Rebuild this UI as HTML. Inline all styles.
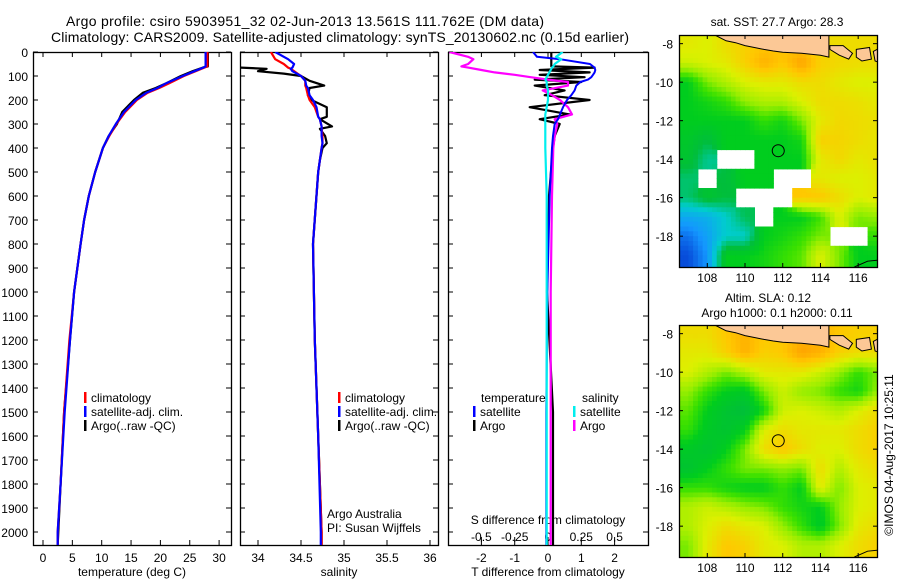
<!DOCTYPE html>
<html><head><meta charset="utf-8"><style>
html,body{margin:0;padding:0;background:#fff}
svg{display:block}
text{font-family:"Liberation Sans",sans-serif;fill:#000}
</style></head><body>
<svg id="fig" width="900" height="580" viewBox="0 0 900 580" xmlns="http://www.w3.org/2000/svg">
<text x="66" y="26" font-size="14" textLength="478">Argo profile: csiro 5903951_32 02-Jun-2013 13.561S 111.762E (DM data)</text>
<text x="51" y="42" font-size="14" textLength="578">Climatology: CARS2009. Satellite-adjusted climatology: synTS_20130602.nc (0.15d earlier)</text>
<g id="g"></g>
</svg>
<script>
// ---- profile data ----
const depthT = [0,60,65,80,100,130,150,170,200,250,300,350,400,500,600,700,800,1000,1200,1500,1800,2000,2054];
const argoT  = [28.1,28.1,27.2,25.5,23.5,21,19.2,17,15.5,13.5,12.6,11.2,10.2,8.9,7.8,7,6.4,5.3,4.6,3.6,3.0,2.6,2.5];
const climT  = [28,28,27.5,26,24,21.5,19.8,17.8,16,14,12.5,11.3,10.2,8.9,7.8,7,6.4,5.3,4.5,3.6,3.0,2.5,2.5];
const satT   = [27.7,27.7,27.3,25.8,23.8,21,19.5,17.6,15.8,13.8,12.4,11.2,10.2,8.9,7.8,7,6.4,5.3,4.6,3.7,3.0,2.5,2.5];
const depthS = [0,30,50,65,70,80,90,100,120,140,150,180,200,230,270,280,310,320,350,380,400,450,500,800,1200,1600,2000,2054];
const argoS  = [null,null,null,33.8,34.1,34.0,34.3,34.5,34.6,34.77,34.6,34.58,34.62,34.8,34.8,34.72,34.86,34.72,34.78,34.8,34.75,34.72,34.7,34.64,34.66,34.7,34.74,34.74];
const climS  = [34.15,34.2,34.3,34.35,34.38,34.42,34.46,34.5,34.55,34.55,34.56,34.58,34.6,34.66,34.7,34.72,34.74,34.74,34.75,34.75,34.74,34.72,34.7,34.64,34.66,34.7,34.74,34.74];
const satS   = [34.2,34.35,34.42,34.4,34.38,34.4,34.45,34.5,34.55,34.56,34.58,34.6,34.64,34.68,34.7,34.72,34.74,34.74,34.74,34.75,34.74,34.72,34.7,34.64,34.66,34.7,34.73,34.73];
const depthD = [0,20,30,50,60,65,75,85,95,105,115,125,140,160,180,200,230,260,280,300,350,400,600,1000,1500,2000,2054];
const argoTd = [0.1,0.1,0.1,0.1,0.1,1.4,-0.25,1.25,-0.25,1.1,-0.4,1.0,-0.4,0.5,-0.1,1.25,-0.55,0.65,-0.25,0.35,0.2,0.15,0.03,-0.03,0.15,0.15,0.15];
const satTd  = [-0.45,-0.33,0.36,1.26,1.35,1.4,1.42,1.4,1.35,1.3,1.2,0.97,0.85,0.8,0.7,0.57,0.45,0.36,0.3,0.2,0.15,0.12,0.05,-0.02,-0.05,-0.05,-0.05];
const argoSd = [-0.74,-0.6,-0.56,-0.6,-0.65,-0.6,-0.5,-0.4,-0.25,-0.13,0,0.15,0.15,-0.04,0.03,0.09,0.15,0.18,0.05,0.07,0.05,0.04,0.03,0.02,0.02,0.02,0.02];
const satSd  = [0.11,0.06,0.1,0.05,0.04,0.03,0.02,0.01,0,-0.01,-0.02,-0.01,-0.01,0,0,0,-0.01,-0.02,-0.02,-0.02,-0.02,-0.02,-0.01,-0.01,-0.01,-0.01,-0.01];
const depthTicks = [0,100,200,300,400,500,600,700,800,900,1000,1100,1200,1300,1400,1500,1600,1700,1800,1900,2000];
const tempTicks = [0,5,10,15,20,25,30];
const salTickLabels = ["34","34.5","35","35.5","36"];
const salTickVals = [34,34.5,35,35.5,36];
const tdTicks = [-2,-1,0,1,2];
const sdTicks = [-0.5,-0.25,0,0.25,0.5];
// ---- map grids (rows lat -8..-19, cols lon 107..117) ----
const mapLats = [-8,-9,-10,-11,-12,-13,-14,-15,-16,-17,-18,-19];
const mapLons = [107,108,109,110,111,112,113,114,115,116,117];
const sstGrid = [
[0.72,0.7,0.75,0.78,0.8,0.82,0.8,0.75,0.75,0.75,0.75],
[0.68,0.7,0.72,0.78,0.85,0.8,0.88,0.78,0.76,0.75,0.75],
[0.5,0.6,0.65,0.7,0.72,0.72,0.75,0.75,0.72,0.7,0.7],
[0.5,0.52,0.55,0.62,0.65,0.65,0.7,0.75,0.75,0.74,0.72],
[0.5,0.5,0.5,0.5,0.55,0.52,0.6,0.72,0.76,0.75,0.74],
[0.47,0.42,0.5,0.5,0.5,0.5,0.52,0.78,0.77,0.75,0.73],
[0.45,0.35,null,null,0.5,0.5,0.5,0.72,0.76,0.72,0.74],
[0.38,null,0.42,0.5,0.5,null,null,0.72,0.7,0.7,0.72],
[0.38,0.45,0.42,null,null,null,0.8,0.8,0.75,0.7,0.72],
[0.2,0.22,0.3,0.4,null,0.5,0.5,0.56,0.7,0.6,0.62],
[0.1,0.18,0.3,0.3,0.5,0.52,0.55,0.6,null,null,0.55],
[0.05,0.15,0.5,0.5,0.52,0.55,0.58,0.7,0.6,0.5,0.5]];
const slaGrid = [
[0.75,0.75,0.8,0.85,0.8,0.8,0.85,0.85,0.8,0.78,0.78],
[0.72,0.72,0.78,0.85,0.78,0.8,0.88,0.85,0.78,0.75,0.75],
[0.7,0.65,0.6,0.65,0.72,0.72,0.72,0.68,0.62,0.55,0.6],
[0.62,0.55,0.5,0.48,0.6,0.68,0.62,0.6,0.55,0.52,0.62],
[0.58,0.5,0.45,0.42,0.52,0.68,0.7,0.68,0.65,0.7,0.75],
[0.55,0.48,0.45,0.5,0.7,0.75,0.72,0.72,0.72,0.75,0.78],
[0.48,0.45,0.5,0.6,0.75,0.8,0.75,0.7,0.7,0.75,0.78],
[0.45,0.5,0.55,0.6,0.6,0.62,0.6,0.75,0.65,0.72,0.75],
[0.55,0.55,0.52,0.5,0.5,0.55,0.5,0.72,0.6,0.7,0.72],
[0.65,0.68,0.65,0.62,0.6,0.55,0.52,0.5,0.62,0.7,0.72],
[0.65,0.7,0.75,0.72,0.7,0.62,0.55,0.48,0.6,0.72,0.75],
[0.6,0.72,0.8,0.78,0.72,0.7,0.65,0.65,0.7,0.75,0.78]];
const lonTicks = [108,110,112,114,116];
const latTicks = [-8,-10,-12,-14,-16,-18];
const coastLon = [108.4,109,109.5,110,110.5,111,111.5,112,113,114,114.45,114.45];
const coastLat = [-7.55,-7.85,-7.95,-8.1,-8.2,-8.3,-8.38,-8.45,-8.5,-8.6,-8.7,-7.55];
const baliLon = [114.5,115.2,115.7,115.5,115.0,114.5];
const baliLat = [-8.1,-8.1,-8.5,-8.8,-8.6,-8.3];
const lombokLon = [115.9,116.6,116.7,116.2,115.9];
const lombokLat = [-8.3,-8.2,-8.8,-8.9,-8.7];
const sumbawaLon = [116.8,117.2,117.2,116.9];
const sumbawaLat = [-8.4,-8.2,-9.0,-8.9];
const floatLon = 111.762, floatLat = -13.561;

const NS='http://www.w3.org/2000/svg';
const G=document.getElementById('g');
function el(tag,attrs,parent){const e=document.createElementNS(NS,tag);for(const k in attrs)e.setAttribute(k,attrs[k]);(parent||G).appendChild(e);return e;}
function txt(x,y,s,size,anchor,parent){const t=el('text',{x:x,y:y,'font-size':size||12,'text-anchor':anchor||'start'},parent);t.textContent=s;return t;}

const PT=52, PB=545;
const yD=d=>PT+d*0.24;
const xT=v=>43+v*5.87;
const xS=v=>258+(v-34)*86;
const xTd=v=>548+v*33.3;
const xSd=v=>548+v*133.2;

function panel(x0,x1,name){
  const r=el('rect',{x:x0+0.5,y:PT+0.5,width:x1-x0,height:PB-PT,fill:'none',stroke:'#000','stroke-width':1.3});
  
  
  depthTicks.forEach(d=>{el('line',{x1:x0,x2:x0+5,y1:yD(d),y2:yD(d),stroke:'#000'});el('line',{x1:x1-5,x2:x1,y1:yD(d),y2:yD(d),stroke:'#000'});});
}
function line(ds,vs,fx,color,name,w){
  let p='';let pen=false;
  ds.forEach((d,i)=>{const v=vs[i];if(v===null||v===undefined){pen=false;return;}p+=(pen?'L':'M')+fx(v).toFixed(1)+','+yD(Math.min(d,2054)).toFixed(1);pen=true;});
  const e=el('path',{d:p,fill:'none',stroke:color,'stroke-width':w||2.2,'stroke-linejoin':'round'});
  
  
  return e;
}
function clip(id,x0,x1){const c=el('clipPath',{id:id});el('rect',{x:x0,y:PT,width:x1-x0,height:PB-PT},c);}

// Panel 1 temperature
panel(33,231,'temperature-panel');
depthTicks.forEach(d=>{const t=txt(28,yD(d)+5,String(d),12,'end');});
tempTicks.forEach(v=>{el('line',{x1:xT(v),x2:xT(v),y1:PB-5,y2:PB,stroke:'#000'});el('line',{x1:xT(v),x2:xT(v),y1:PT,y2:PT+5,stroke:'#000'});txt(xT(v),562,String(v),12,'middle');});
txt(132,576,'temperature (deg C)',12,'middle');
clip('c1',33,231);
const g1=el('g',{'clip-path':'url(#c1)'});
[[argoT,'#000','argo-temperature-line'],[climT,'#f00','clim-temperature-line'],[satT,'#00f','sat-temperature-line']].forEach(a=>{g1.appendChild(line(depthT,a[0],xT,a[1],a[2]));});

// Panel 2 salinity
panel(240,438,'salinity-panel');
salTickVals.forEach((v,i)=>{el('line',{x1:xS(v),x2:xS(v),y1:PB-5,y2:PB,stroke:'#000'});el('line',{x1:xS(v),x2:xS(v),y1:PT,y2:PT+5,stroke:'#000'});txt(xS(v),562,salTickLabels[i],12,'middle');});
txt(339,576,'salinity',12,'middle');
clip('c2',240,438);
const g2=el('g',{'clip-path':'url(#c2)'});
[[argoS,'#000','argo-salinity-line'],[climS,'#f00','clim-salinity-line'],[satS,'#00f','sat-salinity-line']].forEach(a=>{g2.appendChild(line(depthS,a[0],xS,a[1],a[2]));});
txt(327,518,'Argo Australia',12);
txt(327,532,'PI: Susan Wijffels',12);

// legends
function legend(x,y,color,label,name){
  const g=el('g',{});
  el('rect',{x:x,y:y-10,width:2.5,height:11,fill:color},g);txt(x+7,y,label,12,'start',g);
}
[[84,'#f00','climatology'],[84,'#00f','satellite-adj. clim.'],[84,'#000','Argo(..raw -QC)']].forEach((l,i)=>legend(l[0],402+i*14,l[1],l[2],'temp-legend-entry'));
[[338,'#f00','climatology'],[338,'#00f','satellite-adj. clim.'],[338,'#000','Argo(..raw -QC)']].forEach((l,i)=>legend(l[0],402+i*14,l[1],l[2],'sal-legend-entry'));

// Panel 3 differences
panel(448,648,'difference-panel');
tdTicks.forEach(v=>{el('line',{x1:xTd(v),x2:xTd(v),y1:PB-5,y2:PB,stroke:'#000'});el('line',{x1:xTd(v),x2:xTd(v),y1:PT,y2:PT+5,stroke:'#000'});txt(xTd(v),562,String(v),12,'middle');});
sdTicks.forEach(v=>{el('line',{x1:xSd(v),x2:xSd(v),y1:PB-8,y2:PB-3,stroke:'#000'});txt(xSd(v),541,String(v),12,'middle');});
txt(548,524,'S difference from climatology',12,'middle');
txt(548,576,'T difference from climatology',12,'middle');
clip('c3',448,648);
const g3=el('g',{'clip-path':'url(#c3)'});
g3.appendChild(line(depthD,argoTd,xTd,'#000','argo-t-diff-line',2.2));
g3.appendChild(line(depthD,argoSd,xSd,'#f0f','argo-s-diff-line',2.2));
g3.appendChild(line(depthD,satTd,xTd,'#00f','sat-t-diff-line',2));
g3.appendChild(line(depthD,satSd,xSd,'#0ee','sat-s-diff-line',2.2));
txt(481,402,'temperature',12);
txt(582,402,'salinity',12);
legend(473,416,'#00f','satellite','t-sat-legend');
legend(473,430,'#000','Argo','t-argo-legend');
legend(573,416,'#0ee','satellite','s-sat-legend');
legend(573,430,'#f0f','Argo','s-argo-legend');

// ---- maps ----
const stops=[[0,[0,40,200]],[0.15,[20,150,255]],[0.3,[0,205,205]],[0.42,[0,190,60]],[0.5,[0,205,30]],[0.56,[60,225,0]],[0.62,[150,238,0]],[0.7,[220,240,0]],[0.8,[255,200,0]],[1,[255,110,0]]];
function cmap(v){for(let i=1;i<stops.length;i++){if(v<=stops[i][0]){const a=stops[i-1],b=stops[i],t=(v-a[0])/(b[0]-a[0]);return 'rgb('+a[1].map((c,k)=>Math.round(c+(b[1][k]-c)*t)).join(',')+')';}}return 'rgb(255,110,0)';}
function drawMap(y0,grid,name,title,circleName){
  const X0=679,X1=877,Y1=y0+232;
  const lx=lon=>X0+(lon-106.5)*18.86;
  const ly=lat=>y0+(-7.55-lat)*19.25;
  const g=el('g',{});
  const cid='mc'+y0;const c=el('clipPath',{id:cid});el('rect',{x:X0,y:y0,width:X1-X0,height:Y1-y0},c);
  const gi=el('g',{'clip-path':'url(#'+cid+')'},g);
  const step=0.25;
  for(let lat=-7.5;lat>-19.75;lat-=step){for(let lon=106.5;lon<117;lon+=step){
    const fr=Math.min(Math.max(-8-(lat-step/2),0),11), fc=Math.min(Math.max(lon+step/2-107,0),10);
    const r0=Math.floor(fr),c0=Math.floor(fc),r1=Math.min(r0+1,11),c1=Math.min(c0+1,10),tr=fr-r0,tc=fc-c0;
    const near=grid[Math.round(fr)][Math.round(fc)];
    let v;
    if(near===null){v=null;}else{
      const q=[grid[r0][c0],grid[r0][c1],grid[r1][c0],grid[r1][c1]].map(x=>x===null?near:x);
      v=q[0]*(1-tr)*(1-tc)+q[1]*(1-tr)*tc+q[2]*tr*(1-tc)+q[3]*tr*tc;}
    if(v===null)continue;
    const cell=el('rect',{x:lx(lon).toFixed(1),y:ly(lat).toFixed(1),width:(step*18.86+0.6).toFixed(1),height:(step*19.25+0.6).toFixed(1),fill:cmap(v)},gi);
    
    
  }}
  function poly(lons,lats,nm){
    const d='M'+lons.map((lo,i)=>lx(lo).toFixed(1)+','+ly(lats[i]).toFixed(1)).join('L')+'Z';
    const p=el('path',{d:d,fill:'#fcc896',stroke:'#000','stroke-width':1},gi);
    
    
  }
  poly(coastLon,coastLat,'land-java');
  poly(baliLon,baliLat,'land-bali');
  poly(lombokLon,lombokLat,'land-lombok');
  poly(sumbawaLon,sumbawaLat,'land-sumbawa');
  el('path',{d:'M'+lx(115.8)+','+Y1+'L'+lx(116.5)+','+ly(-19.3)+'L'+lx(117)+','+ly(-19.25),fill:'none',stroke:'#000'},gi);
  const frame=el('rect',{x:X0+0.5,y:y0+0.5,width:X1-X0,height:Y1-y0,fill:'none',stroke:'#000','stroke-width':1.3},g);
  
  
  lonTicks.forEach(lo=>{el('line',{x1:lx(lo),x2:lx(lo),y1:Y1-4,y2:Y1,stroke:'#000'},g);el('line',{x1:lx(lo),x2:lx(lo),y1:y0,y2:y0+4,stroke:'#000'},g);txt(lx(lo),Y1+15,String(lo),12,'middle',g);});
  latTicks.forEach(la=>{el('line',{x1:X0,x2:X0+4,y1:ly(la),y2:ly(la),stroke:'#000'},g);el('line',{x1:X1-4,x2:X1,y1:ly(la),y2:ly(la),stroke:'#000'},g);txt(673,ly(la)+5,'-'+Math.abs(la),12,'end',g);});
  const cir=el('circle',{cx:lx(floatLon),cy:ly(floatLat),r:6,fill:'none',stroke:'#000','stroke-width':1},g);
  
  
  title.forEach((t,i)=>{txt(t[1],t[2],t[0],12,'middle',g);});
}
drawMap(35,sstGrid,'sst-map',[['sat. SST: 27.7 Argo: 28.3',777,26]],'sst-float-marker');
drawMap(325,slaGrid,'sla-map',[['Altim. SLA: 0.12',768,302],['Argo h1000: 0.1 h2000: 0.11',777,317]],'sla-float-marker');
const cp=txt(0,0,'\u00A9IMOS 04-Aug-2017 10:25:11',12,'middle');
cp.setAttribute('transform','translate(893,455) rotate(-90)');


</script>
</body></html>
